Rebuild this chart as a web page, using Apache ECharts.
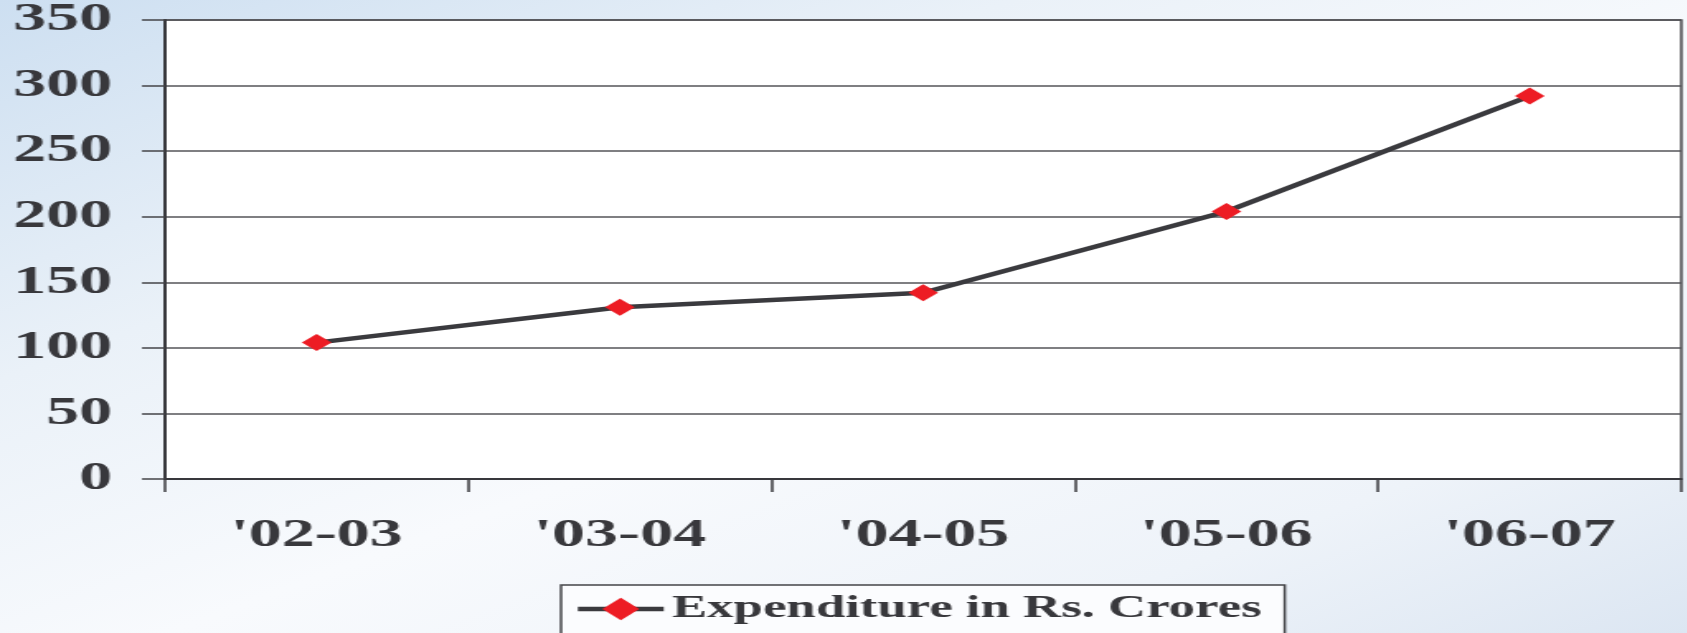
<!DOCTYPE html>
<html>
<head>
<meta charset="utf-8">
<script src="https://cdn.jsdelivr.net/npm/echarts@6/dist/echarts.min.js"></script>
<style>
  html, body {
    margin: 0;
    padding: 0;
    width: 1687px;
    height: 633px;
    overflow: hidden;
    background: linear-gradient(to bottom right, #cddff1 0%, #eaf1f8 30%, #f8fafd 55%, #eef3f9 80%, #dce6f2 100%);
  }
  /* the original picture is stretched sideways, so the chart is drawn narrow and widened */
  #chart {
    width: 1022px;
    height: 633px;
    transform: scaleX(1.65);
    transform-origin: 0 0;
  }
</style>
</head>
<body>
<div id="chart"></div>
<script>
var years = ["'02-03", "'03-04", "'04-05", "'05-06", "'06-07"]
var expenditure = [104, 131, 142, 204, 292]
var seriesName = 'Expenditure in Rs. Crores'

var textColor = '#38383c'
var lineColor = '#3a3a3e'
var fontFamily = '"Liberation Serif", "Times New Roman", serif'

var chartDom = document.getElementById('chart')
var myChart = echarts.init(chartDom)

var option = {
  backgroundColor: 'transparent',
  animation: false,
  grid: {
    left: 100,
    right: 3,
    top: 20,
    bottom: 154,
    show: true,
    backgroundColor: '#ffffff',
    borderColor: '#444448',
    borderWidth: 1.5,
  },
  legend: {
    data: [seriesName],
    left: 340,
    top: 585,
    orient: 'horizontal',
    padding: [8, 14, 40, 8],
    backgroundColor: '#fbfcfe',
    borderColor: '#444448',
    borderWidth: 1.5,
    itemWidth: 52,
    itemHeight: 28,
    itemGap: 10,
    lineStyle: { width: 4.5 },
    textStyle: {
      color: textColor,
      fontFamily: fontFamily,
      fontWeight: 'bold',
      fontSize: 32,
    },
  },
  xAxis: {
    type: 'category',
    data: years,
    boundaryGap: true,
    axisLine: { lineStyle: { color: '#38383c', width: 2 } },
    axisTick: {
      show: true,
      length: 13,
      lineStyle: { color: '#38383c', width: 1.5 },
    },
    axisLabel: {
      color: textColor,
      fontFamily: fontFamily,
      fontWeight: 'bold',
      fontSize: 40,
      margin: 37,
    },
    splitLine: { show: false },
  },
  yAxis: {
    type: 'value',
    min: 0,
    max: 350,
    interval: 50,
    axisLine: { show: true, lineStyle: { color: '#38383c', width: 2 } },
    axisTick: {
      show: true,
      length: 14,
      lineStyle: { color: '#444448', width: 1.5 },
    },
    axisLabel: {
      color: textColor,
      fontFamily: fontFamily,
      fontWeight: 'bold',
      fontSize: 40,
      margin: 32,
    },
    splitLine: { show: true, lineStyle: { color: '#555558', width: 1.5 } },
  },
  series: [
    {
      name: seriesName,
      type: 'line',
      data: expenditure,
      symbol: 'diamond',
      symbolSize: [18, 17],
      itemStyle: { color: '#ed1c24' },
      lineStyle: { color: lineColor, width: 4.5 },
      z: 3,
    },
  ],
}

option && myChart.setOption(option)
</script>
</body>
</html>
